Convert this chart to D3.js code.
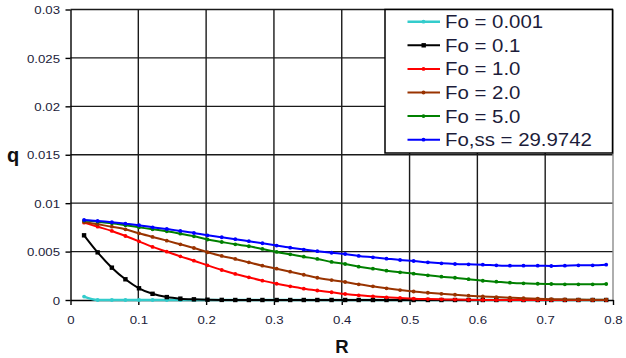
<!DOCTYPE html>
<html>
<head>
<meta charset="utf-8">
<script src="https://cdn.jsdelivr.net/npm/d3@7"></script>
<style>
  html, body { margin: 0; padding: 0; background: #fff; }
  svg { display: block; }
  text { font-family: "Liberation Sans", Arial, sans-serif; }
</style>
</head>
<body>
<svg id="chart" width="626" height="358"></svg>
<script>
// Radial positions of the finite-difference nodes
const R = [0.020, 0.040, 0.061, 0.081, 0.101, 0.121, 0.142, 0.162, 0.182, 0.202,
           0.223, 0.243, 0.263, 0.283, 0.304, 0.324, 0.344, 0.364, 0.385, 0.405,
           0.425, 0.446, 0.466, 0.486, 0.506, 0.527, 0.547, 0.567, 0.587, 0.608,
           0.628, 0.648, 0.668, 0.689, 0.709, 0.729, 0.749, 0.770, 0.790];

// Heat flux q at each node, one array per Fourier number
const qFo0001 = [0.00035, 0, 0, 0, 0, 0, 0, 0, 0, 0,
                 0, 0, 0, 0, 0, 0, 0, 0, 0, 0,
                 0, 0, 0, 0, 0, 0, 0, 0, 0, 0,
                 0, 0, 0, 0, 0, 0, 0, 0, 0];
const qFo01 = [0.00668, 0.00492, 0.00334, 0.00214, 0.00121, 0.00064, 0.00030, 0.00014, 0.00007, 0.00003,
               0.00001, 0, 0, 0, 0, 0, 0, 0, 0, 0,
               0, 0, 0, 0, 0, 0, 0, 0, 0, 0,
               0, 0, 0, 0, 0, 0, 0, 0, 0];
const qFo1 = [0.00799, 0.00757, 0.00713, 0.00661, 0.00606, 0.00548, 0.00499, 0.00451, 0.00406, 0.00358,
              0.00310, 0.00269, 0.00234, 0.00200, 0.00168, 0.00141, 0.00117, 0.00098, 0.00080, 0.00062,
              0.00048, 0.00038, 0.00028, 0.00021, 0.00014, 0.00010, 0.00007, 0.00004, 0.00002, 0.00001,
              0.00001, 0, 0, 0, 0, 0, 0, 0, 0];
const qFo2 = [0.00806, 0.00782, 0.00757, 0.00730, 0.00689, 0.00651, 0.00613, 0.00575, 0.00537, 0.00493,
              0.00455, 0.00424, 0.00389, 0.00354, 0.00323, 0.00292, 0.00261, 0.00230, 0.00206, 0.00186,
              0.00162, 0.00141, 0.00121, 0.00103, 0.00088, 0.00075, 0.00064, 0.00054, 0.00045, 0.00037,
              0.00030, 0.00024, 0.00018, 0.00013, 0.00009, 0.00006, 0.00004, 0.00003, 0.00003];
const qFo5 = [0.00820, 0.00809, 0.00792, 0.00772, 0.00751, 0.00730, 0.00709, 0.00685, 0.00658, 0.00625,
              0.00599, 0.00575, 0.00555, 0.00527, 0.00496, 0.00472, 0.00447, 0.00424, 0.00393, 0.00372,
              0.00344, 0.00324, 0.00303, 0.00286, 0.00272, 0.00255, 0.00241, 0.00230, 0.00215, 0.00199,
              0.00189, 0.00179, 0.00172, 0.00168, 0.00165, 0.00162, 0.00162, 0.00162, 0.00165];
const qFoSS = [0.00826, 0.00816, 0.00803, 0.00788, 0.00772, 0.00751, 0.00733, 0.00713, 0.00692, 0.00668,
               0.00648, 0.00628, 0.00607, 0.00586, 0.00562, 0.00540, 0.00521, 0.00504, 0.00488, 0.00475,
               0.00455, 0.00441, 0.00427, 0.00413, 0.00403, 0.00389, 0.00379, 0.00372, 0.00368, 0.00365,
               0.00358, 0.00354, 0.00354, 0.00354, 0.00351, 0.00354, 0.00358, 0.00358, 0.00365];

const seriesNames = ["Fo = 0.001", "Fo = 0.1", "Fo = 1.0", "Fo = 2.0", "Fo = 5.0", "Fo,ss = 29.9742"];
const seriesValues = [qFo0001, qFo01, qFo1, qFo2, qFo5, qFoSS];
const seriesColors = ["#33cccc", "#000000", "#ff0000", "#993300", "#008000", "#0000ff"];

const xTicks = [0, 0.1, 0.2, 0.3, 0.4, 0.5, 0.6, 0.7, 0.8];
const yTicks = [0, 0.005, 0.01, 0.015, 0.02, 0.025, 0.03];
const xTickLabels = ["0", "0.1", "0.2", "0.3", "0.4", "0.5", "0.6", "0.7", "0.8"];
const yTickLabels = ["0", "0.005", "0.01", "0.015", "0.02", "0.025", "0.03"];

const svg = d3.select("#chart");
const plotLeft = 70.5, plotRight = 613, plotTop = 9.5, plotBottom = 300;

const x = d3.scaleLinear().domain([0, 0.8]).range([plotLeft, plotRight]);
const y = d3.scaleLinear().domain([0, 0.03]).range([plotBottom, plotTop]);

const labelColor = "#1c1c3a";

// grid
const grid = svg.append("g");
grid.selectAll("line.v").data(xTicks.slice(1, -1)).join("line")
  .attr("x1", d => x(d)).attr("x2", d => x(d))
  .attr("y1", plotTop).attr("y2", plotBottom)
  .attr("stroke", "#1a1a1a").attr("stroke-width", 1.4);
grid.selectAll("line.h").data(yTicks.slice(1)).join("line")
  .attr("x1", plotLeft).attr("x2", plotRight)
  .attr("y1", d => y(d)).attr("y2", d => y(d))
  .attr("stroke", "#1a1a1a").attr("stroke-width", 1.4);
// right edge of plot area
grid.append("line")
  .attr("x1", plotRight).attr("x2", plotRight).attr("y1", plotTop).attr("y2", plotBottom)
  .attr("stroke", "#8c8c8c").attr("stroke-width", 1.4);

// axes
const yAxis = d3.axisLeft(y).tickValues(yTicks).tickSize(5).tickSizeOuter(0)
  .tickFormat((d, i) => yTickLabels[i]);
const xAxis = d3.axisBottom(x).tickValues(xTicks).tickSize(5).tickSizeOuter(0)
  .tickFormat((d, i) => xTickLabels[i]);

const gy = svg.append("g").attr("transform", `translate(${plotLeft},0)`).call(yAxis);
const gx = svg.append("g").attr("transform", `translate(0,${plotBottom})`).call(xAxis);
[gx, gy].forEach(g => {
  g.select(".domain").attr("stroke", "#000").attr("stroke-width", 1.4);
  g.selectAll(".tick line").attr("stroke", "#000").attr("stroke-width", 1.4);
  g.selectAll(".tick text")
    .attr("fill", labelColor)
    .style("font-size", "11.5px");
});
gy.selectAll(".tick text")
  .attr("x", 0).attr("dy", "0.36em")
  .attr("transform", "translate(-10.5,0) scale(1.15,1)");
gx.selectAll(".tick text")
  .attr("y", 0).attr("dy", "0")
  .attr("transform", "translate(0,23.5) scale(1.15,1)");

// axis titles
svg.append("text").attr("x", 13).attr("y", 162)
  .attr("text-anchor", "middle").attr("font-weight", "bold")
  .style("font-size", "20px").attr("fill", "#111").text("q");
svg.append("text").attr("x", 342).attr("y", 353)
  .attr("text-anchor", "middle").attr("font-weight", "bold")
  .style("font-size", "18.5px").attr("fill", "#111").text("R");

// series
const line = d3.line().x((d, i) => x(R[i])).y(d => y(d)).curve(d3.curveMonotoneX);
const plot = svg.append("g");
seriesValues.forEach((vals, s) => {
  const g = plot.append("g");
  g.append("path").datum(vals)
    .attr("d", line).attr("fill", "none")
    .attr("stroke", seriesColors[s]).attr("stroke-width", s === 0 ? 2.4 : 2);
  if (s === 1) {
    g.selectAll("rect").data(vals).join("rect")
      .attr("x", (d, i) => x(R[i]) - 2.2).attr("y", d => y(d) - 2.2)
      .attr("width", 4.4).attr("height", 4.4).attr("fill", seriesColors[s]);
  } else {
    g.selectAll("circle").data(vals).join("circle")
      .attr("cx", (d, i) => x(R[i])).attr("cy", d => y(d))
      .attr("r", 1.9).attr("fill", seriesColors[s]);
  }
});

// legend
const legend = svg.append("g");
legend.append("rect")
  .attr("x", 385).attr("y", 9.5).attr("width", 227.5).attr("height", 143.5)
  .attr("fill", "#fff").attr("stroke", "#000").attr("stroke-width", 1.5);
seriesNames.forEach((name, s) => {
  const cy = 21.7 + s * 23.6;
  legend.append("line")
    .attr("x1", 407.5).attr("x2", 440).attr("y1", cy).attr("y2", cy)
    .attr("stroke", seriesColors[s]).attr("stroke-width", s === 0 ? 2.4 : 2);
  if (s === 1) {
    legend.append("rect").attr("x", 421.5).attr("y", cy - 2.2)
      .attr("width", 4.4).attr("height", 4.4).attr("fill", seriesColors[s]);
  } else {
    legend.append("circle").attr("cx", 423.5).attr("cy", cy).attr("r", 1.9)
      .attr("fill", seriesColors[s]);
  }
  legend.append("text")
    .attr("transform", `translate(445,${cy + 6.4}) scale(1.16,1)`)
    .style("font-size", "17.6px").attr("fill", labelColor)
    .text(name);
});
</script>
</body>
</html>
